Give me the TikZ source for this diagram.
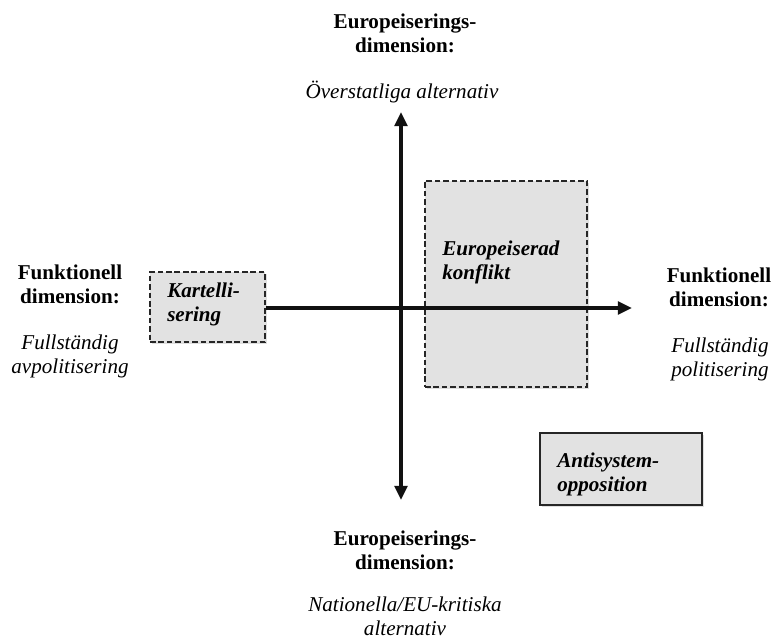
\documentclass[tikz,border=0pt]{standalone}
\usepackage{fontspec}
\setmainfont{Liberation Serif}
\usetikzlibrary{arrows.meta,positioning,shadows}
\definecolor{zonegray}{HTML}{E2E2E2}
\definecolor{axisblack}{HTML}{111111}

\begin{document}
\begin{tikzpicture}[x=0.025cm,y=-0.025cm,
  dimlabel/.style={font=\fontsize{15}{17}\selectfont\bfseries,align=center},
  altlabel/.style={font=\fontsize{15}{17}\selectfont\itshape,align=center},
  zone/.style={rectangle,fill=zonegray,draw=black!85,line width=1.4pt,
               inner sep=0pt,
               drop shadow={opacity=0.25,shadow xshift=1.5pt,shadow yshift=-1.5pt}},
  zonedash/.style={dash pattern=on 4pt off 2pt},
  zonetext/.style={font=\fontsize{15}{17}\selectfont\bfseries\itshape,
                   align=left,inner sep=0pt},
  axis/.style={line width=2.2pt,draw=axisblack,
               -{Triangle[length=10pt,width=9pt]}}
]
  \useasboundingbox (0,0) rectangle (775,639);

  % ---- Zones -------------------------------------------------
  \node[zone,zonedash,minimum width=2.875cm,minimum height=1.75cm]
    (kartell) at (207.5,307) {};
  \node[zone,zonedash,minimum width=4.05cm,minimum height=5.15cm]
    (konflikt) at (506,284) {};
  \node[zone,minimum width=4.05cm,minimum height=1.8cm]
    (antisystem) at (621,469) {};

  % ---- Axes --------------------------------------------------
  \coordinate (top) at (401,112);
  \coordinate (bottom) at (401,500);
  \coordinate (right) at (632,308);
  \draw[axis,{Triangle[length=10pt,width=9pt]}-{Triangle[length=10pt,width=9pt]}]
    (bottom) -- (top);
  \draw[axis] (kartell.east |- right) -- (right);

  % ---- Zone texts --------------------------------------------
  \node[zonetext,below right=0.3cm and 0.45cm of kartell.north west]
    (kartellText) {Kartelli-\\sering};
  \node[zonetext,below right=1.525cm and 0.45cm of konflikt.north west]
    (konfliktText) {Europeiserad\\konflikt};
  \node[zonetext,below right=0.525cm and 0.45cm of antisystem.north west]
    (antisystemText) {Antisystem-\\opposition};

  % ---- Axis labels -------------------------------------------
  \node[dimlabel] (topDim) at (405,33) {Europeiserings-\\dimension:};
  \node[altlabel] (topAlt) at (402,92) {Överstatliga alternativ};

  \node[dimlabel] (leftDim) at (70,284) {Funktionell\\dimension:};
  \node[altlabel] (leftAlt) at (70,356) {Fullständig\\avpolitisering};

  \node[dimlabel] (rightDim) at (719,287) {Funktionell\\dimension:};
  \node[altlabel] (rightAlt) at (720,359) {Fullständig\\politisering};

  \node[dimlabel] (bottomDim) at (405,550) {Europeiserings-\\dimension:};
  \node[altlabel] (bottomAlt) at (405,616) {Nationella/EU-kritiska\\alternativ};

\end{tikzpicture}
\end{document}
